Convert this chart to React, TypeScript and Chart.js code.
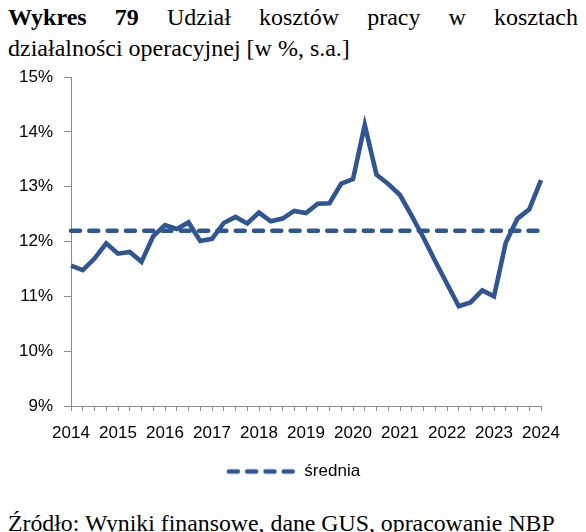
import React, { useEffect, useRef } from 'react';
import { Chart, registerables } from 'chart.js';
import type { ChartConfiguration } from 'chart.js';

Chart.register(...registerables);

// quarterly, 2014 Q1 - 2024 Q1
const quarters = [
  '2014 Q1', '2014 Q2', '2014 Q3', '2014 Q4',
  '2015 Q1', '2015 Q2', '2015 Q3', '2015 Q4',
  '2016 Q1', '2016 Q2', '2016 Q3', '2016 Q4',
  '2017 Q1', '2017 Q2', '2017 Q3', '2017 Q4',
  '2018 Q1', '2018 Q2', '2018 Q3', '2018 Q4',
  '2019 Q1', '2019 Q2', '2019 Q3', '2019 Q4',
  '2020 Q1', '2020 Q2', '2020 Q3', '2020 Q4',
  '2021 Q1', '2021 Q2', '2021 Q3', '2021 Q4',
  '2022 Q1', '2022 Q2', '2022 Q3', '2022 Q4',
  '2023 Q1', '2023 Q2', '2023 Q3', '2023 Q4',
  '2024 Q1',
];

const laborCostShare = [
  11.56, 11.48, 11.69, 11.97,
  11.78, 11.81, 11.63, 12.10,
  12.30, 12.23, 12.35, 12.01,
  12.05, 12.34, 12.45, 12.33,
  12.53, 12.37, 12.42, 12.56,
  12.52, 12.69, 12.70, 13.06,
  13.14, 14.13, 13.22, 13.05,
  12.85, 12.47, 12.07, 11.64,
  11.23, 10.82, 10.89, 11.11,
  11.00, 11.98, 12.42, 12.59,
  13.12,
];

const averageShare = 12.2;
const averageLine = quarters.map(() => averageShare);

const yTicks = [9, 10, 11, 12, 13, 14, 15];

const BLUE = '#2f5592';
const AXIS = '#8c8c8c';
const SANS = "'Liberation Sans', Arial, sans-serif";
const SERIF = "'Liberation Serif', 'Times New Roman', serif";

// dashed sample for the legend
function dashSample(): HTMLCanvasElement {
  const c = document.createElement('canvas');
  c.width = 70;
  c.height = 8;
  const g = c.getContext('2d');
  if (g) {
    g.strokeStyle = BLUE;
    g.lineWidth = 4.5;
    g.lineCap = 'round';
    g.setLineDash([9, 9.3]);
    g.beginPath();
    g.moveTo(3, 4);
    g.lineTo(68, 4);
    g.stroke();
  }
  return c;
}

const App: React.FC = () => {
  const chartRef = useRef<HTMLCanvasElement>(null);
  const chartInstanceRef = useRef<Chart | null>(null);

  useEffect(() => {
    if (!chartRef.current) return;
    if (chartInstanceRef.current) {
      chartInstanceRef.current.destroy();
    }
    const ctx = chartRef.current.getContext('2d');
    if (!ctx) return;

    const sample = dashSample();

    const config: ChartConfiguration<'line'> = {
      type: 'line',
      data: {
        labels: quarters,
        datasets: [
          {
            label: 'udział kosztów pracy',
            data: laborCostShare,
            borderColor: BLUE,
            backgroundColor: BLUE,
            borderWidth: 4.6,
            pointRadius: 0,
            tension: 0,
            order: 1,
          },
          {
            label: 'średnia',
            data: averageLine,
            borderColor: BLUE,
            backgroundColor: BLUE,
            borderWidth: 4.5,
            borderDash: [9, 9.3],
            borderCapStyle: 'round',
            pointRadius: 0,
            order: 2,
          },
        ],
      },
      options: {
        animation: false,
        responsive: true,
        maintainAspectRatio: false,
        layout: { padding: { top: 6, right: 0, left: 0, bottom: 0 } },
        plugins: {
          tooltip: { enabled: false },
          legend: {
            position: 'bottom',
            labels: {
              usePointStyle: true,
              pointStyleWidth: 70,
              color: '#000',
              padding: 10,
              font: { family: SANS, size: 17 },
              generateLabels: () => [
                {
                  text: 'średnia',
                  pointStyle: sample,
                  datasetIndex: 1,
                  fontColor: '#000',
                  lineWidth: 0,
                  hidden: false,
                },
              ],
            },
          },
        },
        scales: {
          x: {
            type: 'category',
            grid: {
              drawOnChartArea: false,
              drawTicks: true,
              tickLength: 5,
              color: AXIS,
            },
            border: { color: AXIS, width: 1 },
            afterFit: (scale) => {
              scale.height = 47;
            },
            ticks: {
              autoSkip: false,
              maxRotation: 0,
              padding: 12,
              color: '#000',
              font: { family: SANS, size: 17 },
              callback: (_v, i) => (quarters[i].endsWith('Q1') ? quarters[i].slice(0, 4) : ''),
            },
          },
          y: {
            min: yTicks[0],
            max: yTicks[yTicks.length - 1],
            grid: {
              drawOnChartArea: false,
              drawTicks: true,
              tickLength: 7,
              color: AXIS,
            },
            border: { color: AXIS, width: 1 },
            afterFit: (scale) => {
              scale.width = 63;
            },
            ticks: {
              stepSize: 1,
              padding: 11,
              color: '#000',
              font: { family: SANS, size: 17 },
              callback: (v) => `${v}%`,
            },
          },
          // empty right-hand gutter
          gutter: {
            type: 'linear',
            position: 'right',
            display: true,
            grid: { display: false },
            border: { display: false },
            ticks: { display: false },
            afterFit: (scale) => {
              scale.width = 37;
            },
          },
        },
      },
    };

    chartInstanceRef.current = new Chart(ctx, config);

    return () => {
      if (chartInstanceRef.current) {
        chartInstanceRef.current.destroy();
        chartInstanceRef.current = null;
      }
    };
  }, []);

  return (
    <div style={{ marginTop: -6 }}>
      <div style={{ fontFamily: SERIF, fontSize: 24, lineHeight: '31px', color: '#000' }}>
        <div style={{ textAlign: 'justify', textAlignLast: 'justify' }}>
          <b>Wykres 79</b> Udział kosztów pracy w kosztach
        </div>
        <div>działalności operacyjnej [w %, s.a.]</div>
      </div>
      <div style={{ position: 'relative', height: 434, marginTop: -8 }}>
        <canvas ref={chartRef}></canvas>
      </div>
      <div
        style={{
          fontFamily: SERIF,
          fontSize: 23.8,
          lineHeight: '28px',
          marginTop: 19,
          color: '#000',
          whiteSpace: 'nowrap',
        }}
      >
        Źródło: Wyniki finansowe, dane GUS, opracowanie NBP
      </div>
    </div>
  );
};

export default App;
